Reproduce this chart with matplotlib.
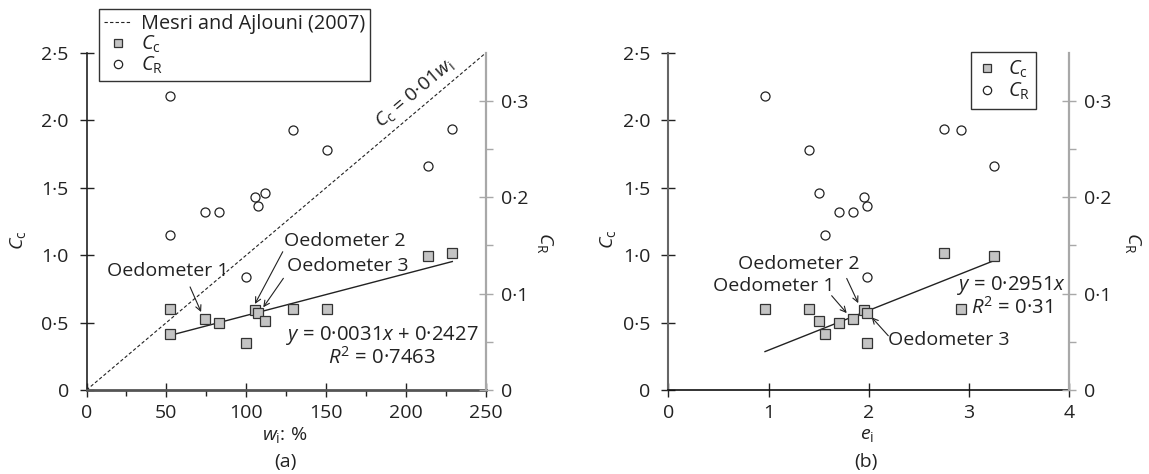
import matplotlib
matplotlib.use("Agg")
import matplotlib.pyplot as plt
from matplotlib.lines import Line2D
from matplotlib.ticker import FixedLocator, FixedFormatter
import numpy as np

# ---------------- data (one entry per sample) ----------------
wi = [52.2, 52.2, 73.9, 83.2, 99.7, 105.3, 107.0, 111.8, 129.5, 150.5, 213.6, 228.9]
ei = [0.965, 1.566, 1.843, 1.703, 1.98, 1.95, 1.98, 1.50, 2.92, 1.40, 3.249, 2.753]
Cc = [0.60, 0.415, 0.524, 0.50, 0.35, 0.59, 0.568, 0.51, 0.60, 0.60, 0.99, 1.017]
CR = [0.305, 0.161, 0.185, 0.185, 0.117, 0.200, 0.191, 0.204, 0.270, 0.249, 0.232, 0.271]

fit_a = (0.0031, 0.2427)   # slope, intercept (wi)
fit_b = (0.2951, 0.0)      # slope, intercept (ei)
mesri_coef = 0.01

cc_ticks = [0, 0.5, 1.0, 1.5, 2.0, 2.5]
cc_labels = ["0", "0·5", "1·0", "1·5", "2·0", "2·5"]
cr_ticks = [0, 0.1, 0.2, 0.3]
cr_labels = ["0", "0·1", "0·2", "0·3"]
cr_minor = [0.05, 0.15, 0.25]
wi_ticks = [0, 50, 100, 150, 200, 250]
wi_minor = [25, 75, 125, 175, 225]
ei_ticks = [0, 1, 2, 3, 4]

# ---------------- style ----------------
plt.rcParams['font.family'] = ['Open Sans', 'DejaVu Sans']
plt.rcParams['mathtext.fontset'] = 'custom'
plt.rcParams['mathtext.rm'] = 'Open Sans'
plt.rcParams['mathtext.it'] = 'Open Sans:italic'
plt.rcParams['mathtext.bf'] = 'Open Sans:bold'
FS = 14
TXT = '#222222'
GRAY_AX = '#a8a8a8'
SQ_FACE = '#c4c4c4'

fig = plt.figure(figsize=(11.49, 4.74), dpi=100)
axA = fig.add_axes([0.0753, 0.1772, 0.3477, 0.7116])
axB = fig.add_axes([0.5816, 0.1772, 0.3490, 0.7116])


def style_axes(ax, xticks, xlabels, xlim, xminor=None):
    ax.set_xlim(*xlim)
    ax.set_ylim(0, 2.5)
    for s in ['top', 'right']:
        ax.spines[s].set_visible(False)
    ax.xaxis.set_major_locator(FixedLocator(xticks))
    ax.xaxis.set_major_formatter(FixedFormatter(xlabels))
    ax.yaxis.set_major_locator(FixedLocator(cc_ticks))
    ax.yaxis.set_major_formatter(FixedFormatter(cc_labels))
    if xminor:
        ax.xaxis.set_minor_locator(FixedLocator(xminor))
    ax.tick_params(axis='both', which='major', direction='inout', length=9.5,
                   width=1.0, labelsize=FS, colors=TXT, pad=4)
    ax.tick_params(axis='x', which='minor', direction='out', length=4, width=1.0,
                   color=TXT)
    ax.tick_params(axis='y', which='major', pad=8)
    ax.tick_params(axis='x', which='major', pad=5)


def twin_axes(ax):
    tw = ax.twinx()
    tw.set_ylim(0, 0.35)
    for s in ['top', 'left', 'bottom']:
        tw.spines[s].set_visible(False)
    tw.spines['right'].set_color(GRAY_AX)
    tw.spines['right'].set_linewidth(1.6)
    tw.yaxis.set_major_locator(FixedLocator(cr_ticks))
    tw.yaxis.set_major_formatter(FixedFormatter(cr_labels))
    tw.yaxis.set_minor_locator(FixedLocator(cr_minor))
    tw.tick_params(axis='y', which='major', direction='inout', length=9.5, width=1.0,
                   color=GRAY_AX, labelcolor=TXT, labelsize=FS, pad=6)
    tw.tick_params(axis='y', which='minor', direction='out', length=5, width=1.0,
                   color=GRAY_AX)
    return tw


sq_kw = dict(marker='s', ms=7.5, mfc=SQ_FACE, mec='#333333', mew=0.9, ls='none', zorder=4)
ci_kw = dict(marker='o', ms=6.5, mfc='white', mec='#222222', mew=0.9, ls='none', zorder=4)

# ---------------- panel (a) ----------------
style_axes(axA, wi_ticks, [str(t) for t in wi_ticks], (0, 250), wi_minor)
axA.spines['left'].set_color('#222222')
axA.spines['left'].set_linewidth(1.2)
axA.spines['bottom'].set_color('#555555')
axA.spines['bottom'].set_linewidth(2.0)
twA = twin_axes(axA)

xm = np.array([0, 250])
axA.plot(xm, mesri_coef * xm, ls=(0, (3, 2)), lw=0.8, color='#222222', zorder=2)
xf = np.array([min(wi), max(wi)])
axA.plot(xf, fit_a[0] * xf + fit_a[1], color='#222222', lw=1.0, zorder=3)
axA.plot(wi, Cc, **sq_kw)
twA.plot(wi, CR, **ci_kw)

axA.text(205, 2.20, r"$C_\mathrm{c}$ = 0·01$w_\mathrm{i}$", fontsize=FS, color=TXT,
         rotation=40.2, rotation_mode='anchor', ha='center', va='center')

ann_kw = dict(arrowprops=dict(arrowstyle='->', lw=0.8, color='#222222',
                              shrinkA=0, shrinkB=0, mutation_scale=10))
axA.text(51.0, 0.882, "Oedometer 1", fontsize=FS, color=TXT, ha='center', va='center')
axA.annotate('', xy=(71.7, 0.578), xytext=(64.8, 0.764), **ann_kw)
axA.text(161.8, 1.105, "Oedometer 2", fontsize=FS, color=TXT, ha='center', va='center')
axA.annotate('', xy=(105.4, 0.638), xytext=(122.8, 1.025), **ann_kw)
axA.text(163.3, 0.917, "Oedometer 3", fontsize=FS, color=TXT, ha='center', va='center')
axA.annotate('', xy=(110.6, 0.613), xytext=(123.2, 0.828), **ann_kw)
axA.text(184.9, 0.326, "$y$ = 0·0031$x$ + 0·2427\n$R^2$ = 0·7463", fontsize=14.6,
         color=TXT, ha='center', va='center', multialignment='center', linespacing=1.0)

axA.text(-0.171, 0.445, r"$C_\mathrm{c}$", transform=axA.transAxes, rotation=90,
         fontsize=FS, color=TXT, ha='center', va='center')
axA.text(1.148, 0.436, r"$C_\mathrm{R}$", transform=axA.transAxes, rotation=270,
         fontsize=FS, color=TXT, ha='center', va='center')
axA.text(0.497, -0.133, r"$w_\mathrm{i}$: %", transform=axA.transAxes,
         fontsize=FS, color=TXT, ha='center', va='center')
axA.text(0.497, -0.213, "(a)", transform=axA.transAxes,
         fontsize=FS, color=TXT, ha='center', va='center')

hA = [Line2D([], [], ls=(0, (3, 2)), lw=0.8, color='#222222'),
      Line2D([], [], marker='s', ms=6, mfc=SQ_FACE, mec='#333333', mew=0.9, ls='none'),
      Line2D([], [], marker='o', ms=6, mfc='white', mec='#222222', mew=0.9, ls='none')]
legA = fig.legend(hA, ["Mesri and Ajlouni (2007)", r"$C_\mathrm{c}$", r"$C_\mathrm{R}$"],
                  loc='upper left', bbox_to_anchor=(99.3 / 1149, 1 - 9.3 / 474),
                  borderaxespad=0, fancybox=False, edgecolor='#333333',
                  fontsize=14.3, handlelength=1.4, handletextpad=0.5,
                  labelspacing=0.0, borderpad=0.22, framealpha=1)
legA.get_frame().set_linewidth(1.0)
for t in legA.get_texts():
    t.set_color(TXT)

# ---------------- panel (b) ----------------
style_axes(axB, ei_ticks, [str(t) for t in ei_ticks], (0, 4))
axB.spines['left'].set_color('#666666')
axB.spines['left'].set_linewidth(1.5)
axB.spines['bottom'].set_color('#111111')
axB.spines['bottom'].set_linewidth(1.2)
twB = twin_axes(axB)

xf = np.array([min(ei), max(ei)])
axB.plot(xf, fit_b[0] * xf + fit_b[1], color='#222222', lw=1.0, zorder=3)
axB.plot(ei, Cc, **sq_kw)
twB.plot(ei, CR, **ci_kw)

axB.text(1.304, 0.933, "Oedometer 2", fontsize=FS, color=TXT, ha='center', va='center')
axB.annotate('', xy=(1.895, 0.644), xytext=(1.780, 0.827), **ann_kw)
axB.text(1.054, 0.768, "Oedometer 1", fontsize=FS, color=TXT, ha='center', va='center')
axB.annotate('', xy=(1.780, 0.570), xytext=(1.630, 0.699), **ann_kw)
axB.text(2.80, 0.373, "Oedometer 3", fontsize=FS, color=TXT, ha='center', va='center')
axB.annotate('', xy=(2.029, 0.539), xytext=(2.195, 0.402), **ann_kw)
axB.text(3.425, 0.693, "$y$ = 0·2951$x$\n$R^2$ = 0·31", fontsize=14.6,
         color=TXT, ha='center', va='center', multialignment='center', linespacing=1.0,
         zorder=5)

axB.text(-0.150, 0.448, r"$C_\mathrm{c}$", transform=axB.transAxes, rotation=90,
         fontsize=FS, color=TXT, ha='center', va='center')
axB.text(1.159, 0.436, r"$C_\mathrm{R}$", transform=axB.transAxes, rotation=270,
         fontsize=FS, color=TXT, ha='center', va='center')
axB.text(0.497, -0.133, r"$e_\mathrm{i}$", transform=axB.transAxes,
         fontsize=FS, color=TXT, ha='center', va='center')
axB.text(0.492, -0.213, "(b)", transform=axB.transAxes,
         fontsize=FS, color=TXT, ha='center', va='center')

hB = [Line2D([], [], marker='s', ms=6, mfc=SQ_FACE, mec='#333333', mew=0.9, ls='none'),
      Line2D([], [], marker='o', ms=6, mfc='white', mec='#222222', mew=0.9, ls='none')]
legB = fig.legend(hB, [r"$C_\mathrm{c}$", r"$C_\mathrm{R}$"],
                  loc='upper left', bbox_to_anchor=(970.7 / 1149, 1 - 52.3 / 474),
                  borderaxespad=0, fancybox=False, edgecolor='#333333',
                  fontsize=14.3, handlelength=1.0, handletextpad=0.55,
                  labelspacing=0.05, borderpad=0.32, framealpha=1)
legB.get_frame().set_linewidth(1.0)
for t in legB.get_texts():
    t.set_color(TXT)

fig.savefig("out.png", dpi=100)
